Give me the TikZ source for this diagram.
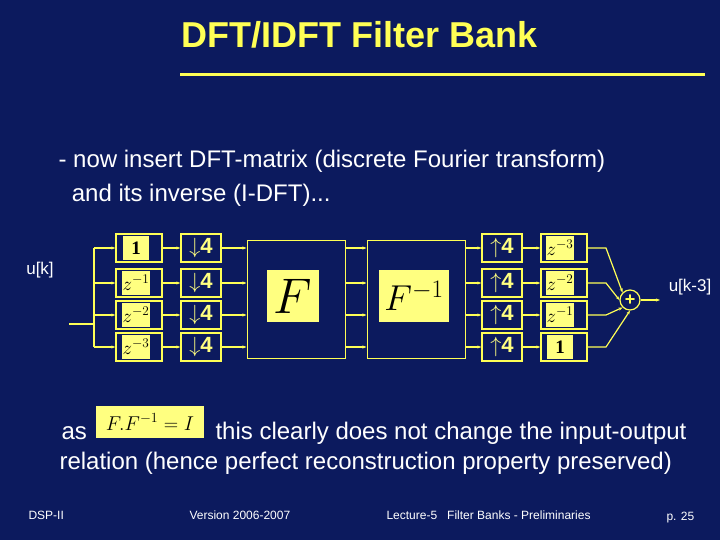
\RequirePackage{fix-cm}
\documentclass[tikz,border=0pt]{standalone}
\usepackage{fontspec}
\setmainfont{Liberation Sans}
\newfontfamily\serifb{Liberation Serif}
\usetikzlibrary{arrows.meta}
\definecolor{bg}{HTML}{0C1A5E}
\definecolor{yl}{HTML}{FFFF55}
\definecolor{pt}{HTML}{FFFF80}
\begin{document}
\begin{tikzpicture}[x=1pt,y=-1pt,
  ln/.style={draw=yl,line width=1.2pt},
  ar/.style={ln,-{Stealth[length=4pt,width=3pt]}},
  blk/.style={draw=yl,line width=1.3pt,minimum width=46pt,minimum height=28pt,inner sep=0pt},
  ds/.style={draw=yl,line width=1.3pt,minimum width=40pt,minimum height=28pt,inner sep=0pt,text=pt,font=\bfseries\fontsize{22}{22}\selectfont},
  pat/.style={fill=pt,inner sep=1pt,minimum height=24pt,minimum width=26pt,text=black},
  big/.style={draw=yl,line width=1pt,minimum width=98pt,minimum height=118pt}]
\fill[bg] (0,0) rectangle (720,540);
\useasboundingbox (0,0) rectangle (720,540);
\node[text=yl,font=\bfseries\fontsize{36}{36}\selectfont] (title) at (360,35) {DFT/IDFT Filter Bank};
\draw[yl,line width=3pt] (180,75) -- (705,75);
\node[text=white,anchor=west,align=left,font=\fontsize{24}{34}\selectfont] (t1) at (55,178) {- now insert DFT-matrix (discrete Fourier transform)\\\ \ and its inverse (I-DFT)...};
\node[text=white,font=\fontsize{17}{17}\selectfont] (uk) at (40,270) {u[k]};
\node[text=white,font=\fontsize{17}{17}\selectfont] (uk3) at (690,287) {u[k-3]};
\coordinate (in) at (69,324);
\coordinate (sp) at (94,324);
\draw[ln] (in) -- (sp);
\node[big] (F) at (296,299) {};
\node[pat,minimum width=52pt,minimum height=52pt,font=\fontsize{50}{50}\selectfont] (Fp) at (293,296) {$F$};
\node[big] (Fi) at (416,299) {};
\node[pat,minimum width=70pt,minimum height=52pt,font=\fontsize{36}{36}\selectfont] (Fip) at (414,296) {$F^{-1}$};
\node[draw=yl,line width=1.2pt,circle,minimum size=20pt,inner sep=0pt,text=yl,font=\bfseries\fontsize{18}{18}\selectfont] (sum) at (630,300) {+};
\coordinate (out) at (660,300);
\draw[ar] (sum) -- (out);
\foreach \i/\y/\dl/\dr in {1/248/{\mbox{\serifb\bfseries 1}}/{z^{-3}},2/283/{z^{-1}}/{z^{-2}},3/315/{z^{-2}}/{z^{-1}},4/347/{z^{-3}}/{\mbox{\serifb\bfseries 1}}}{
  \node[blk] (d\i) at (139,\y) {};
  \node[pat,font=\fontsize{19}{19}\selectfont] at (136,\y) {$\dl$};
  \node[ds] (dn\i) at (201,\y) {$\downarrow$4};
  \node[ds] (up\i) at (502,\y) {$\uparrow$4};
  \node[blk] (e\i) at (564,\y) {};
  \node[pat,font=\fontsize{19}{19}\selectfont] at (560,\y) {$\dr$};
  \coordinate (sp\i) at (94,\y);
  \draw[ar] (sp\i) -- (d\i.west);
  \draw[ar] (d\i) -- (dn\i);
  \draw[ar] (dn\i.east) -- (F.west |- dn\i);
  \draw[ar] (F.east |- dn\i) -- (Fi.west |- dn\i);
  \draw[ar] (Fi.east |- up\i) -- (up\i.west);
  \draw[ar] (up\i) -- (e\i);
}
\draw[ln] (sp1) -- (sp4);
\draw[ar] (e1.east) -- (606,248) -- (sum.north west);
\draw[ar] (e2.east) -- (606,283) -- (sum.west);
\draw[ar] (e3.east) -- (606,315) -- (sum.south west);
\draw[ar] (e4.east) -- (606,347) -- (sum.south);
\node[text=white,anchor=west,font=\fontsize{24}{24}\selectfont] (as) at (58,433) {as};
\node[pat,minimum width=108pt,minimum height=32pt,font=\fontsize{20}{20}\selectfont] (eq) at (150,422) {$F.F^{-1}=I$};
\node[text=white,anchor=west,font=\fontsize{24}{24}\selectfont] (t2) at (212,433) {this clearly does not change the input-output};
\node[text=white,anchor=west,font=\fontsize{24}{24}\selectfont] (t3) at (56,463) {relation (hence perfect reconstruction property preserved)};
\node[text=white,anchor=west,font=\fontsize{12}{12}\selectfont] (f1) at (25,515) {DSP-II};
\node[text=white,anchor=west,font=\fontsize{12}{12}\selectfont] (f2) at (186,515) {Version 2006-2007};
\node[text=white,anchor=west,font=\fontsize{12}{12}\selectfont] (f3) at (383,515) {Lecture-5\ \ \ Filter Banks - Preliminaries};
\node[text=white,anchor=west,font=\fontsize{12}{12}\selectfont] (f4) at (663,518) {p. 25};
\end{tikzpicture}
\end{document}
